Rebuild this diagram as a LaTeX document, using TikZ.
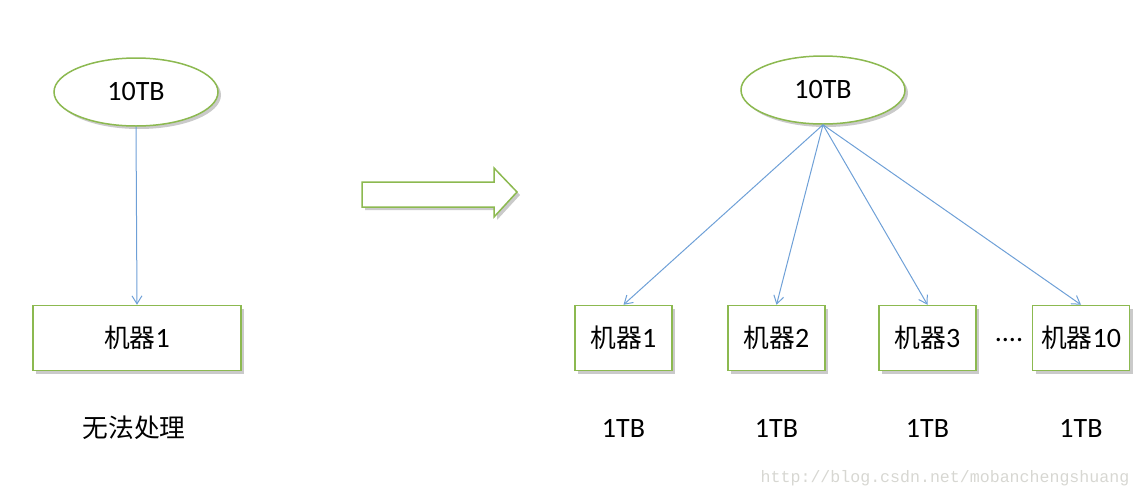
\documentclass[tikz,border=0pt]{standalone}
\usepackage{fontspec}
\setmainfont{Carlito}
\newfontfamily\cjk{Noto Sans CJK SC}[Scale=0.92]
\setmonofont{Liberation Mono}
\usepackage{tikz}
\usetikzlibrary{arrows.meta,shapes,shadows,positioning}
\definecolor{boxgreen}{RGB}{140,185,80}
\definecolor{lineblue}{RGB}{110,160,215}
\definecolor{markgray}{RGB}{215,215,210}

\begin{document}
\begin{tikzpicture}[x=0.5pt, y=-0.5pt,
    font=\fontsize{14}{16}\selectfont,
    shade/.style={drop shadow={shadow xshift=1.5pt, shadow yshift=-1.5pt, opacity=0.35, fill=black!60}},
    data/.style={draw=boxgreen, line width=0.75pt, fill=white, ellipse, shade,
      minimum width=82pt, minimum height=34pt, inner sep=0pt},
    machine/.style={draw=boxgreen, line width=0.75pt, fill=white, shade,
      minimum width=48.5pt, minimum height=32.5pt, inner sep=0pt},
    feed/.style={draw=lineblue, line width=0.5pt, -{Straight Barb[length=4pt,width=5pt]}}]
      \useasboundingbox (0,0) rectangle (1142,499);
      % before
      \node[data] (bigL) at (136,92) {10TB}; % left data
      \node[machine, minimum width=104pt] (oneL) at (137,338) {{\cjk 机器}1};
      \node (fail) at (134,428) {\cjk 无法处理};
      \draw[feed] (bigL.south) -- (oneL.north);
      % big arrow
      \draw[draw=boxgreen, line width=0.75pt, fill=white, shade]
        (362,182) -- (494,182) -- (494,168) -- (517,192) -- (494,217)
        -- (494,207) -- (362,207) -- cycle;
      % after
      \node[data] (bigR) at (823,90) {10TB}; % right data
      \node[machine] (m1) at (623.5,338) {{\cjk 机器}1};
      \node[machine] (m2) at (776.5,338) {{\cjk 机器}2};
      \node[machine] (m3) at (927.5,338) {{\cjk 机器}3};
      \node[machine] (m10) at (1081,338) {{\cjk 机器}10};
      \node (dots) at (1009,340) {....};
      \foreach \m in {m1,m2,m3,m10} {
        \draw[feed] (bigR.south) -- (\m.north);
        \node at ([yshift=-45pt]\m.center) {1TB};
      }
      % watermark
      \node[text=markgray, font=\ttfamily\fontsize{8.3}{10}\selectfont] (mark) at (945,478)
        {http://blog.csdn.net/mobanchengshuang};
    \end{tikzpicture}
\end{document}
